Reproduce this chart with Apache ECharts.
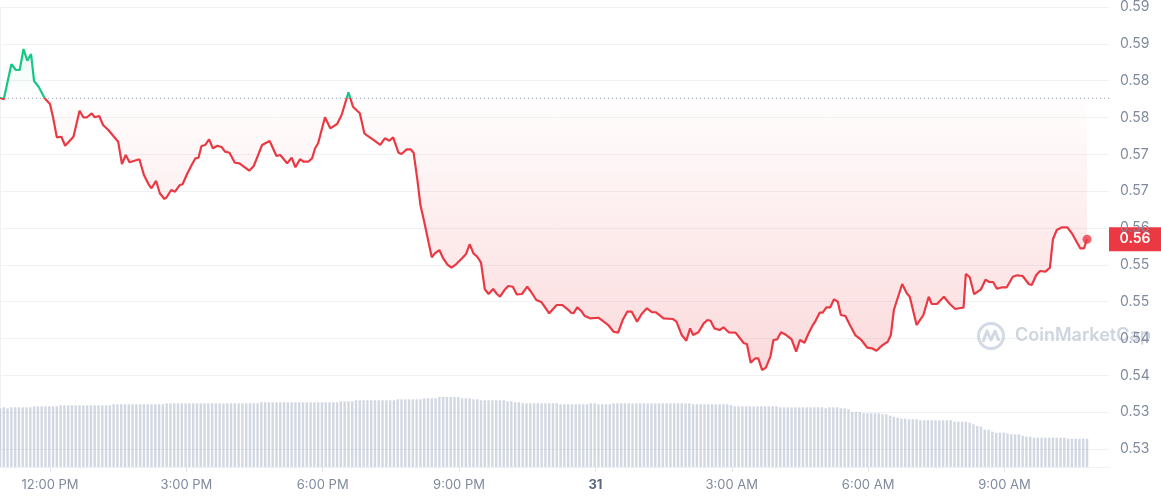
<!DOCTYPE html>
<html><head><meta charset="utf-8">
<script src="https://cdn.jsdelivr.net/npm/echarts@6/dist/echarts.min.js"></script>
<style>html,body{margin:0;padding:0;background:#fff}#c{width:1161px;height:500px}</style>
</head><body><div id="c"></div>
<script>
// minutes since 10:54 AM (day 30)
const priceTimes = [0,5,15,21,26,31,36,41,45,51,59,66,70,75,81,86,97,105,110,115,121,125,131,136,143,156,161,166,171,184,190,196,200,206,211,217,220,226,231,237,241,247,253,258,262,266,271,276,281,287,293,297,303,310,316,329,335,339,346,356,365,370,379,385,390,396,401,407,412,416,420,429,436,445,451,460,466,475,481,484,493,502,508,514,519,526,530,537,542,546,551,555,560,566,570,574,580,585,591,596,602,610,615,620,625,630,635,640,645,651,656,660,666,671,677,682,689,696,701,708,715,725,735,742,749,754,757,762,767,772,779,790,797,803,810,816,822,828,834,841,847,854,861,866,876,888,893,900,906,911,915,922,929,934,938,943,950,955,962,971,982,986,991,997,1001,1006,1011,1017,1021,1026,1031,1038,1045,1051,1056,1062,1067,1073,1076,1082,1086,1091,1096,1101,1106,1110,1116,1122,1129,1137,1145,1151,1157,1164,1172,1176,1180,1191,1197,1201,1210,1219,1226,1230,1237,1246,1254,1261,1268,1272,1275,1280,1286,1295,1301,1306,1311,1316,1323,1329,1337,1343,1350,1358,1362,1368,1373,1380,1386,1390,1395,1402,1409,1415,1426,1431,1435];
const prices = [0.57769,0.57747,0.58222,0.58145,0.58145,0.58430,0.58271,0.58362,0.57995,0.57918,0.57761,0.57683,0.57503,0.57231,0.57239,0.57117,0.57239,0.57592,0.57503,0.57503,0.57557,0.57503,0.57520,0.57398,0.57330,0.57171,0.56869,0.56991,0.56892,0.56933,0.56719,0.56597,0.56539,0.56642,0.56471,0.56394,0.56417,0.56516,0.56493,0.56580,0.56593,0.56733,0.56855,0.56946,0.56954,0.57113,0.57127,0.57204,0.57082,0.57117,0.57095,0.57036,0.57022,0.56886,0.56878,0.56778,0.56842,0.56946,0.57127,0.57181,0.56977,0.56991,0.56878,0.56954,0.56824,0.56933,0.56900,0.56900,0.56946,0.57082,0.57150,0.57503,0.57353,0.57412,0.57534,0.57842,0.57647,0.57557,0.57285,0.57262,0.57195,0.57127,0.57218,0.57185,0.57231,0.57022,0.57004,0.57068,0.57068,0.57022,0.56652,0.56312,0.56085,0.55792,0.55602,0.55656,0.55701,0.55589,0.55498,0.55461,0.55507,0.55589,0.55643,0.55779,0.55656,0.55610,0.55529,0.55168,0.55104,0.55172,0.55104,0.55067,0.55158,0.55213,0.55203,0.55100,0.55104,0.55203,0.55135,0.55023,0.54991,0.54842,0.54955,0.54955,0.54900,0.54850,0.54842,0.54923,0.54877,0.54805,0.54774,0.54782,0.54728,0.54683,0.54592,0.54579,0.54751,0.54864,0.54864,0.54728,0.54832,0.54910,0.54856,0.54856,0.54774,0.54765,0.54728,0.54547,0.54470,0.54638,0.54547,0.54584,0.54706,0.54751,0.54741,0.54638,0.54615,0.54652,0.54584,0.54579,0.54435,0.54425,0.54171,0.54231,0.54231,0.54072,0.54104,0.54253,0.54480,0.54489,0.54584,0.54547,0.54489,0.54321,0.54480,0.54443,0.54561,0.54683,0.54728,0.54850,0.54850,0.54923,0.54923,0.55032,0.54999,0.54819,0.54805,0.54683,0.54547,0.54480,0.54375,0.54367,0.54334,0.54402,0.54457,0.54547,0.54887,0.55240,0.55113,0.55067,0.54683,0.54819,0.55067,0.54968,0.54968,0.55067,0.54968,0.54900,0.54914,0.54918,0.55376,0.55335,0.55101,0.55168,0.55298,0.55267,0.55267,0.55175,0.55195,0.55195,0.55339,0.55358,0.55348,0.55240,0.55226,0.55362,0.55416,0.55407,0.55461,0.55847,0.55973,0.56009,0.56009,0.55928,0.55724,0.55724,0.55847];
// one volume bar every 5 minutes (relative units)
const volumes = [58.7,59.7,58.7,59.7,59.7,59.7,59.7,59.7,59.7,
60.7,60.7,60.7,60.7,60.7,60.7,60.7,
61.7,61.7,61.7,61.7,61.7,61.7,61.7,61.7,61.7,61.7,61.7,61.7,61.7,61.7,
62.7,62.7,62.7,62.7,62.7,62.7,62.7,62.7,62.7,62.7,62.7,62.7,62.7,62.7,
63.7,63.7,63.7,63.7,63.7,63.7,63.7,63.7,63.7,63.7,63.7,63.7,63.7,63.7,63.7,63.7,63.7,63.7,63.7,63.7,63.7,63.7,63.7,63.7,63.7,
64.7,64.7,64.7,64.7,64.7,64.7,64.7,64.7,64.7,64.7,64.7,64.7,64.7,64.7,64.7,64.7,64.7,64.7,64.7,64.7,64.7,
65.7,65.7,65.7,65.7,
66.7,66.7,66.7,66.7,66.7,66.7,66.7,66.7,66.7,66.7,66.7,
67.7,67.7,67.7,67.7,67.7,67.7,67.7,
68.7,68.7,68.7,68.7,
70,70,70,70,70,70,
68.7,68.7,68.7,
67.7,67.7,
66.7,66.7,66.7,66.7,66.7,66.7,66.7,
65.7,65.7,
64.7,64.7,
63.7,63.7,63.7,63.7,63.7,63.7,63.7,63.7,63.7,63.7,
62.7,62.7,62.7,62.7,62.7,62.7,62.7,62.7,
63.7,63.7,
62.7,62.7,62.7,62.7,
63.7,63.7,63.7,63.7,63.7,63.7,63.7,63.7,63.7,63.7,63.7,63.7,63.7,63.7,63.7,63.7,63.7,63.7,63.7,63.7,63.7,
62.7,62.7,62.7,62.7,62.7,62.7,62.7,62.7,62.7,62.7,
61.7,
60.7,60.7,60.7,60.7,60.7,60.7,60.7,60.7,60.7,60.7,60.7,60.7,
59.7,59.7,59.7,59.7,59.7,59.7,59.7,59.7,59.7,59.7,59.7,59.7,
58.7,
59.7,59.7,59.7,
58.7,58.7,
57.7,
55,55,55,
53.7,53.7,53.7,53.7,53.7,
52.7,52.7,
51.3,50.3,49.3,
48.3,48.3,
47.7,47.7,47.7,
46.7,46.7,46.7,46.7,46.7,46.7,46.7,46.7,46.7,
45.3,45.3,45.3,45.3,
44.3,42.7,41,40.3,
37.3,37.3,
35.3,
34.3,34.3,34.3,
33.7,
32.7,32.7,32.7,
31.3,
30.3,30.3,
29.3,29.3,29.3,29.3,29.3,29.3,29.3,29.3,29.3,
28.3,28.3,28.3,28.3,28.3,28.3];
const barStepMinutes = 5;
const tickMinutes = [66, 246, 426, 606, 786, 966, 1146, 1326];
const tickLabels = ['12:00 PM','3:00 PM','6:00 PM','9:00 PM','31','3:00 AM','6:00 AM','9:00 AM'];
const yTickLabels = ['0.53','0.53','0.54','0.54','0.55','0.55','0.56','0.57','0.57','0.58','0.58','0.59','0.59'];
const openPrice = 0.5776;

const GREEN = '#16c784', RED = '#ea3943';
const FONT = 'Inter, "Noto Sans", sans-serif';
const priceData = priceTimes.map((t, i) => [t, prices[i]]);
const volData = volumes.map((v, i) => [i * barStepMinutes, v]);
const last = priceData[priceData.length - 1];
const yMin = 0.53, yMax = 0.59, yStep = 0.005, xMax = 1464;

const chart = echarts.init(document.getElementById('c'), null, {renderer: 'canvas'});
const option = {
  animation: false,
  grid: [
    {left: 0, right: 52, top: 7, bottom: 51},
    {left: 0, right: 52, top: 367, bottom: 33}
  ],
  xAxis: [
    {type: 'value', gridIndex: 0, min: 0, max: xMax, show: false},
    {type: 'value', gridIndex: 1, min: 0, max: xMax,
     axisLine: {show: true, lineStyle: {color: '#eff2f5'}},
     axisTick: {show: true, customValues: tickMinutes, length: 5, lineStyle: {color: '#e3e7ec'}},
     splitLine: {show: false},
     axisLabel: {
       customValues: tickMinutes, margin: 12, color: '#808a9d', fontSize: 13, fontFamily: FONT,
       formatter: function (v) {
         const i = tickMinutes.indexOf(Math.round(v));
         const s = i >= 0 ? tickLabels[i] : '';
         return s === '31' ? '{b|31}' : s;
       },
       rich: {b: {fontWeight: 'bold', color: '#58667e', fontSize: 13, fontFamily: FONT}}
     }}
  ],
  yAxis: [
    {type: 'value', gridIndex: 0, position: 'right', min: yMin, max: yMax, interval: yStep,
     axisLine: {show: true, lineStyle: {color: '#eff2f5'}},
     axisTick: {show: false},
     splitLine: {show: true, lineStyle: {color: '#eff2f5'}},
     axisLabel: {margin: 11, color: '#808a9d', fontSize: 14, fontFamily: FONT,
       formatter: v => yTickLabels[Math.round((v - yMin) / yStep)] || ''}},
    {type: 'value', gridIndex: 1, min: 0, max: 100, show: false}
  ],
  series: [
    {name: 'price', type: 'line', xAxisIndex: 0, yAxisIndex: 0, data: priceData, showSymbol: false, symbol: 'none',
     lineStyle: {width: 2.2, color: RED}, z: 3, silent: true,
     areaStyle: {origin: openPrice, color: 'rgba(234,57,67,0.15)'}},
    {name: 'open', type: 'line', xAxisIndex: 0, yAxisIndex: 0, data: [[0, openPrice], [xMax, openPrice]],
     showSymbol: false, symbol: 'none', silent: true, z: 2,
     lineStyle: {type: [1, 3], color: '#9aa3b5', width: 1}},
    {name: 'volume', type: 'bar', xAxisIndex: 1, yAxisIndex: 1, data: volData, barWidth: 2.4, silent: true,
     itemStyle: {color: '#a6b0c3', opacity: 0.5}, z: 1},
    {name: 'last', type: 'scatter', xAxisIndex: 0, yAxisIndex: 0, data: [last], symbolSize: 9, silent: true,
     itemStyle: {color: RED}, z: 4}
  ]
};
chart.setOption(option);

// gradients and overlays anchored to the axes
const yTopPx = chart.convertToPixel({yAxisIndex: 0}, yMax);
const yBotPx = chart.convertToPixel({yAxisIndex: 0}, yMin);
const yBasePx = chart.convertToPixel({yAxisIndex: 0}, openPrice);
const baseOff = (yBasePx - yTopPx) / (yBotPx - yTopPx);
const fill = new echarts.graphic.LinearGradient(0, yTopPx, 0, yBotPx, [
  {offset: 0, color: 'rgba(22,199,132,0.22)'},
  {offset: baseOff, color: 'rgba(22,199,132,0)'},
  {offset: baseOff + 0.0001, color: 'rgba(234,57,67,0.01)'},
  {offset: 1, color: 'rgba(234,57,67,0.34)'}
], true);
const stroke = new echarts.graphic.LinearGradient(0, yTopPx, 0, yBotPx, [
  {offset: 0, color: GREEN},
  {offset: baseOff, color: GREEN},
  {offset: baseOff + 0.0001, color: RED},
  {offset: 1, color: RED}
], true);
const lastPx = chart.convertToPixel({xAxisIndex: 0, yAxisIndex: 0}, last);
const axisRightPx = chart.convertToPixel({xAxisIndex: 0}, xMax);

chart.setOption({
  series: [{name: 'price', lineStyle: {width: 2.2, color: stroke}, areaStyle: {origin: openPrice, color: fill}}],
  graphic: [
    {type: 'group', silent: true, z: 50, children: [
      {type: 'circle', shape: {cx: 991, cy: 336, r: 12.5}, style: {fill: 'none', stroke: 'rgba(160,172,192,0.45)', lineWidth: 3}},
      {type: 'polyline', shape: {points: [[983, 342], [987, 331], [991, 340], [995, 331], [999, 341]]},
       style: {fill: 'none', stroke: 'rgba(160,172,192,0.45)', lineWidth: 3, lineJoin: 'round'}},
      {type: 'text', x: 1015, y: 336, style: {text: 'CoinMarketCap', fill: 'rgba(160,172,192,0.5)', font: '600 18px ' + FONT, verticalAlign: 'middle'}}
    ]},
    {type: 'group', silent: true, z: 100, children: [
      {type: 'rect', shape: {x: axisRightPx, y: lastPx[1] - 12, width: 1161 - axisRightPx, height: 24}, style: {fill: RED}},
      {type: 'text', x: axisRightPx + (1161 - axisRightPx) / 2, y: lastPx[1],
       style: {text: last[1].toFixed(2), fill: '#fff', font: '600 14px ' + FONT, align: 'center', verticalAlign: 'middle'}}
    ]}
  ]
});
</script></body></html>
